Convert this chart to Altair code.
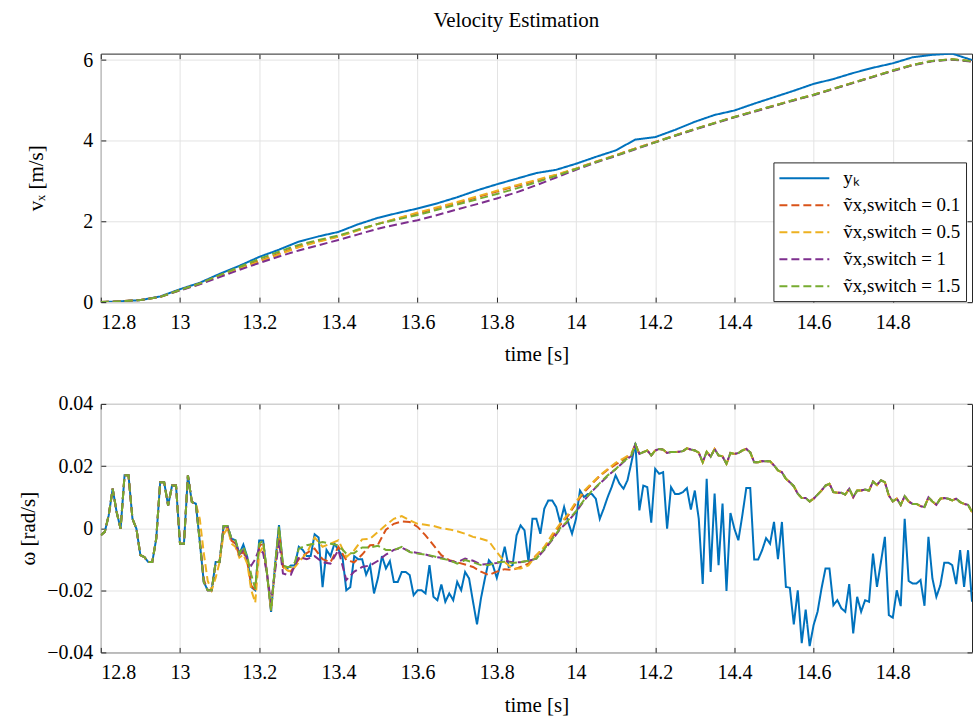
import altair as alt
import numpy as np
import pandas as pd

FONT = "Liberation Serif"
INK = "#262626"

names = ["yₖ", "ṽx,switch = 0.1", "ṽx,switch = 0.5", "ṽx,switch = 1", "ṽx,switch = 1.5"]
colors = ["#0072BD", "#D95319", "#EDB120", "#7E2F8E", "#77AC30"]
dashes = [[1, 0], [8, 4], [8, 4], [8, 4], [8, 4]]

x_ticks = [12.8, 13.0, 13.2, 13.4, 13.6, 13.8, 14.0, 14.2, 14.4, 14.6, 14.8]
vx_ticks = [0, 2, 4, 6]
w_ticks = [-0.04, -0.02, 0, 0.02, 0.04]

# ---------------- top panel: v_x, sampled every 0.05 s from 12.80 to 15.00
vx_yk = [0.0, 0.02, 0.05, 0.14, 0.32, 0.48, 0.70, 0.90, 1.12, 1.30, 1.50, 1.63, 1.74,
         1.93, 2.09, 2.21, 2.32, 2.45, 2.60, 2.77, 2.92, 3.06, 3.20, 3.28, 3.43,
         3.60, 3.76, 4.03, 4.09, 4.27, 4.47, 4.64, 4.75, 4.92, 5.08, 5.24, 5.41,
         5.53, 5.68, 5.81, 5.92, 6.07, 6.13, 6.16, 6.00]
vx_01 = [0.0, 0.02, 0.05, 0.13, 0.30, 0.46, 0.66, 0.85, 1.02, 1.20, 1.38, 1.51, 1.63,
         1.79, 1.94, 2.07, 2.20, 2.33, 2.46, 2.60, 2.74, 2.88, 3.01, 3.15, 3.31,
         3.48, 3.64, 3.81, 3.97, 4.13, 4.29, 4.44, 4.59, 4.73, 4.87, 5.01, 5.14,
         5.29, 5.44, 5.59, 5.74, 5.88, 5.98, 6.02, 5.97]
vx_05 = [0.0, 0.02, 0.05, 0.13, 0.29, 0.45, 0.64, 0.83, 1.00, 1.18, 1.36, 1.50, 1.62,
         1.78, 1.94, 2.08, 2.22, 2.35, 2.48, 2.62, 2.76, 2.90, 3.03, 3.16, 3.31,
         3.48, 3.64, 3.81, 3.97, 4.13, 4.29, 4.44, 4.59, 4.73, 4.87, 5.01, 5.14,
         5.29, 5.44, 5.59, 5.74, 5.88, 5.98, 6.02, 5.97]
vx_1 = [0.0, 0.02, 0.05, 0.13, 0.29, 0.44, 0.62, 0.80, 0.97, 1.13, 1.28, 1.41, 1.54,
        1.68, 1.82, 1.93, 2.03, 2.16, 2.30, 2.43, 2.57, 2.72, 2.90, 3.09, 3.28,
        3.46, 3.62, 3.79, 3.96, 4.12, 4.28, 4.43, 4.58, 4.72, 4.86, 5.00, 5.13,
        5.28, 5.43, 5.58, 5.73, 5.87, 5.97, 6.01, 5.96]
vx_15 = [0.0, 0.02, 0.05, 0.13, 0.30, 0.46, 0.67, 0.87, 1.07, 1.25, 1.42, 1.54, 1.65,
         1.80, 1.94, 2.05, 2.16, 2.29, 2.42, 2.55, 2.68, 2.82, 2.97, 3.13, 3.30,
         3.47, 3.63, 3.80, 3.96, 4.13, 4.29, 4.44, 4.59, 4.73, 4.87, 5.01, 5.14,
         5.29, 5.44, 5.59, 5.74, 5.88, 5.98, 6.02, 5.97]

# ---------------- bottom panel: omega
# measured y_k, every 0.01 s from 12.80 to 15.00
w_yk = [
    -0.0023, -0.0012, 0.0041, 0.0127, 0.0052, -0.0002, 0.0170, 0.0170, 0.0030, -0.0002,
    -0.0087, -0.0093, -0.0109, -0.0109, -0.0034, 0.0148, 0.0148, 0.0073, 0.0137, 0.0137,
    -0.0050, -0.0050, 0.0170, 0.0084, 0.0079, -0.0044, -0.0173, -0.0200, -0.0200, -0.0109,
    -0.0109, 0.0007, 0.0007, -0.0034, -0.0039, -0.0082, -0.0053, -0.0093, -0.0190, -0.0200,
    -0.0040, -0.0040, -0.0150, -0.0270, -0.0120, 0.0010, -0.0120, -0.0130, -0.0120, -0.0120,
    -0.0060, -0.0070, -0.0090, -0.0090, -0.0020, -0.0030, -0.0190, -0.0070, -0.0090, -0.0050,
    -0.0070, -0.0090, -0.0200, -0.0190, -0.0090, -0.0100, -0.0100, -0.0150, -0.0120, -0.0210,
    -0.0160, -0.0090, -0.0130, -0.0106, -0.0173, -0.0173, -0.0141, -0.0141, -0.0151, -0.0216,
    -0.0200, -0.0200, -0.0210, -0.0119, -0.0221, -0.0232, -0.0181, -0.0237, -0.0210, -0.0232,
    -0.0173, -0.0200, -0.0141, -0.0162, -0.0237, -0.0310, -0.0226, -0.0162, -0.0103, -0.0119,
    -0.0160, -0.0114, -0.0060, -0.0125, -0.0119, -0.0023, 0.0009, -0.0007, -0.0109, 0.0030,
    0.0030, -0.0018, 0.0063, 0.0089, 0.0089, 0.0068, 0.0018, 0.0068, 0.0020, -0.0018,
    0.0030, 0.0121, 0.0100, 0.0110, 0.0110, 0.0095, 0.0030, 0.0063, 0.0100, 0.0132,
    0.0170, 0.0143, 0.0127, 0.0154, 0.0212, 0.0274, 0.0057, 0.0137, 0.0132, 0.0018,
    0.0191, 0.0175, 0.0180, -0.0002, 0.0132, 0.0110, 0.0110, 0.0116, 0.0129, 0.0060,
    0.0121, 0.0030, -0.0180, 0.0159, -0.0141, 0.0111, -0.0119, 0.0079, -0.0202, 0.0049,
    -0.0002, -0.0039, 0.0041, 0.0129, 0.0129, -0.0101, -0.0101, -0.0071, -0.0032, -0.0050,
    0.0020, -0.0100, 0.0020, -0.0189, -0.0192, -0.0310, -0.0200, -0.0370, -0.0262, -0.0380,
    -0.0312, -0.0269, -0.0194, -0.0130, -0.0130, -0.0248, -0.0232, -0.0258, -0.0269, -0.0180,
    -0.0339, -0.0221, -0.0269, -0.0232, -0.0237, -0.0082, -0.0189, -0.0109, -0.0028, -0.0280,
    -0.0288, -0.0200, -0.0251, 0.0030, -0.0170, -0.0178, -0.0178, -0.0167, -0.0250, -0.0028,
    -0.0162, -0.0221, -0.0184, -0.0111, -0.0111, -0.0119, -0.0180, -0.0071, -0.0189, -0.0071,
    -0.0237]

# estimates: shared start 12.80-13.04 (0.01 s)
w_est_start = [-0.0023, -0.0012, 0.0041, 0.0127, 0.0052, -0.0002, 0.0170, 0.0170, 0.0030, -0.0002,
               -0.0087, -0.0093, -0.0109, -0.0109, -0.0034, 0.0148, 0.0148, 0.0073, 0.0137, 0.0137,
               -0.0050, -0.0050, 0.0170, 0.0084, 0.0079]
# per estimate 13.05-13.29 (0.01 s)
w01_a = [-0.0035, -0.0165, -0.0200, -0.0200, -0.0115, -0.0105, -0.0005, 0.0000, -0.0040, -0.0050,
         -0.0090, -0.0075, -0.0110, -0.0185, -0.0200, -0.0060, -0.0045, -0.0150, -0.0265, -0.0125,
         -0.0005, -0.0125, -0.0135, -0.0140, -0.0120]
w05_a = [0.0030, -0.0080, -0.0170, -0.0200, -0.0160, -0.0110, -0.0020, 0.0000, -0.0050, -0.0060,
         -0.0095, -0.0085, -0.0115, -0.0200, -0.0240, -0.0080, -0.0060, -0.0150, -0.0260, -0.0130,
         -0.0020, -0.0120, -0.0135, -0.0140, -0.0125]
w1_a = [-0.0044, -0.0173, -0.0200, -0.0200, -0.0109, -0.0109, 0.0005, 0.0005, -0.0034, -0.0045,
        -0.0085, -0.0070, -0.0100, -0.0120, -0.0100, -0.0066, -0.0080, -0.0150, -0.0240, -0.0140,
        -0.0040, -0.0146, -0.0150, -0.0150, -0.0120]
w15_a = [-0.0044, -0.0173, -0.0200, -0.0200, -0.0109, -0.0109, 0.0007, 0.0007, -0.0034, -0.0039,
         -0.0082, -0.0060, -0.0093, -0.0150, -0.0195, -0.0050, -0.0040, -0.0150, -0.0265, -0.0120,
         0.0005, -0.0120, -0.0125, -0.0125, -0.0110]
# per estimate 13.30-14.14 (0.02 s)
w01_b = [-0.0100, -0.0080, -0.0066, -0.0100, -0.0110, -0.0060, -0.0103, -0.0110, -0.0085, -0.0055,
         -0.0053, -0.0005, 0.0014, 0.0022, 0.0020, 0.0004, -0.0023, -0.0055, -0.0087, -0.0103,
         -0.0110, -0.0117, -0.0125, -0.0140, -0.0151, -0.0140, -0.0132, -0.0135, -0.0125, -0.0114,
         -0.0087, -0.0065, -0.0030, 0.0010, 0.0040, 0.0080, 0.0115, 0.0142, 0.0168, 0.0188,
         0.0205, 0.0220, 0.0240]
w05_b = [-0.0110, -0.0080, -0.0030, -0.0060, -0.0050, -0.0039, -0.0093, -0.0071, -0.0036, -0.0034,
         -0.0012, 0.0010, 0.0030, 0.0039, 0.0025, 0.0014, 0.0011, 0.0007, 0.0000, -0.0004,
         -0.0010, -0.0018, -0.0028, -0.0034, -0.0042, -0.0077, -0.0109, -0.0130, -0.0130, -0.0120,
         -0.0087, -0.0060, -0.0020, 0.0015, 0.0045, 0.0085, 0.0120, 0.0145, 0.0170, 0.0190,
         0.0210, 0.0225, 0.0240]
w1_b = [-0.0093, -0.0100, -0.0090, -0.0110, -0.0114, -0.0071, -0.0167, -0.0140, -0.0125, -0.0120,
        -0.0105, -0.0085, -0.0070, -0.0063, -0.0075, -0.0080, -0.0085, -0.0092, -0.0095, -0.0105,
        -0.0110, -0.0098, -0.0105, -0.0117, -0.0115, -0.0112, -0.0105, -0.0110, -0.0110, -0.0105,
        -0.0098, -0.0070, -0.0038, -0.0003, 0.0022, 0.0052, 0.0088, 0.0118, 0.0143, 0.0168,
        0.0190, 0.0213, 0.0233]
w15_b = [-0.0066, -0.0055, -0.0050, -0.0045, -0.0050, -0.0055, -0.0082, -0.0080, -0.0062, -0.0062,
         -0.0057, -0.0070, -0.0071, -0.0060, -0.0077, -0.0082, -0.0085, -0.0090, -0.0098, -0.0103,
         -0.0114, -0.0103, -0.0110, -0.0119, -0.0119, -0.0110, -0.0108, -0.0112, -0.0109, -0.0105,
         -0.0098, -0.0067, -0.0035, 0.0000, 0.0025, 0.0055, 0.0090, 0.0120, 0.0145, 0.0170,
         0.0190, 0.0215, 0.0235]
# shared end 14.15-15.00 (0.01 s)
w_est_end = [0.0270, 0.0239, 0.0245, 0.0250, 0.0234, 0.0250, 0.0255, 0.0253, 0.0242, 0.0245,
             0.0245, 0.0246, 0.0248, 0.0257, 0.0253, 0.0250, 0.0243, 0.0212, 0.0246, 0.0230,
             0.0255, 0.0234, 0.0231, 0.0207, 0.0242, 0.0239, 0.0242, 0.0250, 0.0255, 0.0244,
             0.0212, 0.0212, 0.0216, 0.0215, 0.0215, 0.0202, 0.0186, 0.0180, 0.0159, 0.0148,
             0.0135, 0.0111, 0.0097, 0.0097, 0.0086, 0.0095, 0.0108, 0.0121, 0.0137, 0.0143,
             0.0116, 0.0114, 0.0114, 0.0108, 0.0127, 0.0100, 0.0121, 0.0121, 0.0124, 0.0121,
             0.0150, 0.0139, 0.0154, 0.0148, 0.0105, 0.0086, 0.0095, 0.0075, 0.0103, 0.0086,
             0.0078, 0.0078, 0.0071, 0.0068, 0.0099, 0.0086, 0.0075, 0.0095, 0.0097, 0.0095,
             0.0089, 0.0095, 0.0084, 0.0078, 0.0075, 0.0052]


def grid(start, step, n):
    return [round(start + step * i, 3) for i in range(n)]


# ---------------- tables
top_rows = []
for name, vals in zip(names, [vx_yk, vx_01, vx_05, vx_1, vx_15]):
    for t, v in zip(grid(12.80, 0.05, len(vals)), vals):
        top_rows.append({"t": t, "v": v, "s": name})
df_top = pd.DataFrame(top_rows)

bot_rows = []
for t, v in zip(grid(12.80, 0.01, len(w_yk)), w_yk):
    bot_rows.append({"t": t, "v": v, "s": names[0]})
for name, a, b in zip(names[1:], [w01_a, w05_a, w1_a, w15_a], [w01_b, w05_b, w1_b, w15_b]):
    seg = (list(zip(grid(12.80, 0.01, len(w_est_start)), w_est_start))
           + list(zip(grid(13.05, 0.01, len(a)), a))
           + list(zip(grid(13.30, 0.02, len(b)), b))
           + list(zip(grid(14.15, 0.01, len(w_est_end)), w_est_end)))
    for t, v in seg:
        bot_rows.append({"t": t, "v": v, "s": name})
df_bot = pd.DataFrame(bot_rows)

legend_top = alt.Legend(
    title=None, orient="none", legendX=674, legendY=109,
    fillColor="white", strokeColor=INK, padding=5, cornerRadius=0,
    symbolType="M-2.5,0H2.5", symbolSize=400, symbolStrokeWidth=2, symbolOffset=15,
    labelFont=FONT, labelFontSize=19, labelColor="#000000", labelLimit=400,
    rowPadding=6, labelOffset=28,
)

xscale = alt.Scale(domain=[12.8, 15.0], nice=False, zero=False)
W, H = 873, 249
TICK = dict(ticks=True, tickSize=5, tickColor=INK, tickWidth=1, offset=-5)


def panel(df, ydomain, yticks, ytitle, yfmt, legend, ytitle_pad):
    base = alt.Chart(df)
    lines = base.mark_line(strokeWidth=2, clip=True).encode(
        x=alt.X("t:Q", scale=xscale,
                axis=alt.Axis(orient="bottom", values=x_ticks, format="~g", title="time [s]", **TICK)),
        y=alt.Y("v:Q", scale=alt.Scale(domain=ydomain, nice=False),
                axis=alt.Axis(orient="left", values=yticks, format=yfmt, title=ytitle,
                              titlePadding=ytitle_pad, **TICK)),
        color=alt.Color("s:N", scale=alt.Scale(domain=names, range=colors), legend=legend),
        strokeDash=alt.StrokeDash("s:N", scale=alt.Scale(domain=names, range=dashes), legend=legend),
    )
    frame = base.mark_point(opacity=0).encode(
        x=alt.X("t:Q", scale=xscale,
                axis=alt.Axis(orient="top", values=x_ticks, labels=False, title=None, grid=False,
                              minExtent=0, maxExtent=0, **TICK)),
        y=alt.Y("v:Q", scale=alt.Scale(domain=ydomain, nice=False),
                axis=alt.Axis(orient="right", values=yticks, labels=False, title=None, grid=False,
                              minExtent=0, maxExtent=0, **TICK)),
    )
    return alt.layer(lines, frame).resolve_axis(x="independent", y="independent").properties(width=W, height=H)


top = panel(df_top, [0, 6.16], vx_ticks, "vₓ [m/s]", "~g", legend_top, 11)
bottom = panel(df_bot, [-0.04, 0.04], w_ticks, "ω [rad/s]", "~g", None, 19)

chart = alt.vconcat(top, bottom, spacing=27).resolve_legend(
    color="independent", strokeDash="independent"
).properties(
    title=alt.TitleParams("Velocity Estimation", anchor="middle", dx=20),
    padding={"left": 17, "top": 8, "right": 0, "bottom": 0},
).configure_axis(
    labelFont=FONT, labelFontSize=20, labelColor="#000000",
    titleFont=FONT, titleFontSize=21, titleFontWeight="normal", titleColor="#000000",
    gridColor="#e3e3e3", gridWidth=1, domain=False, ticks=False,
).configure_axisY(
    minExtent=48, maxExtent=48, labelPadding=8,
).configure_axisX(
    labelPadding=10, titlePadding=12,
).configure_view(
    stroke=INK, strokeWidth=1,
).configure_title(
    font=FONT, fontSize=21, fontWeight="normal", color="#000000", offset=19,
)

chart.save("out.html", embed_options={"renderer": "svg", "actions": False})
